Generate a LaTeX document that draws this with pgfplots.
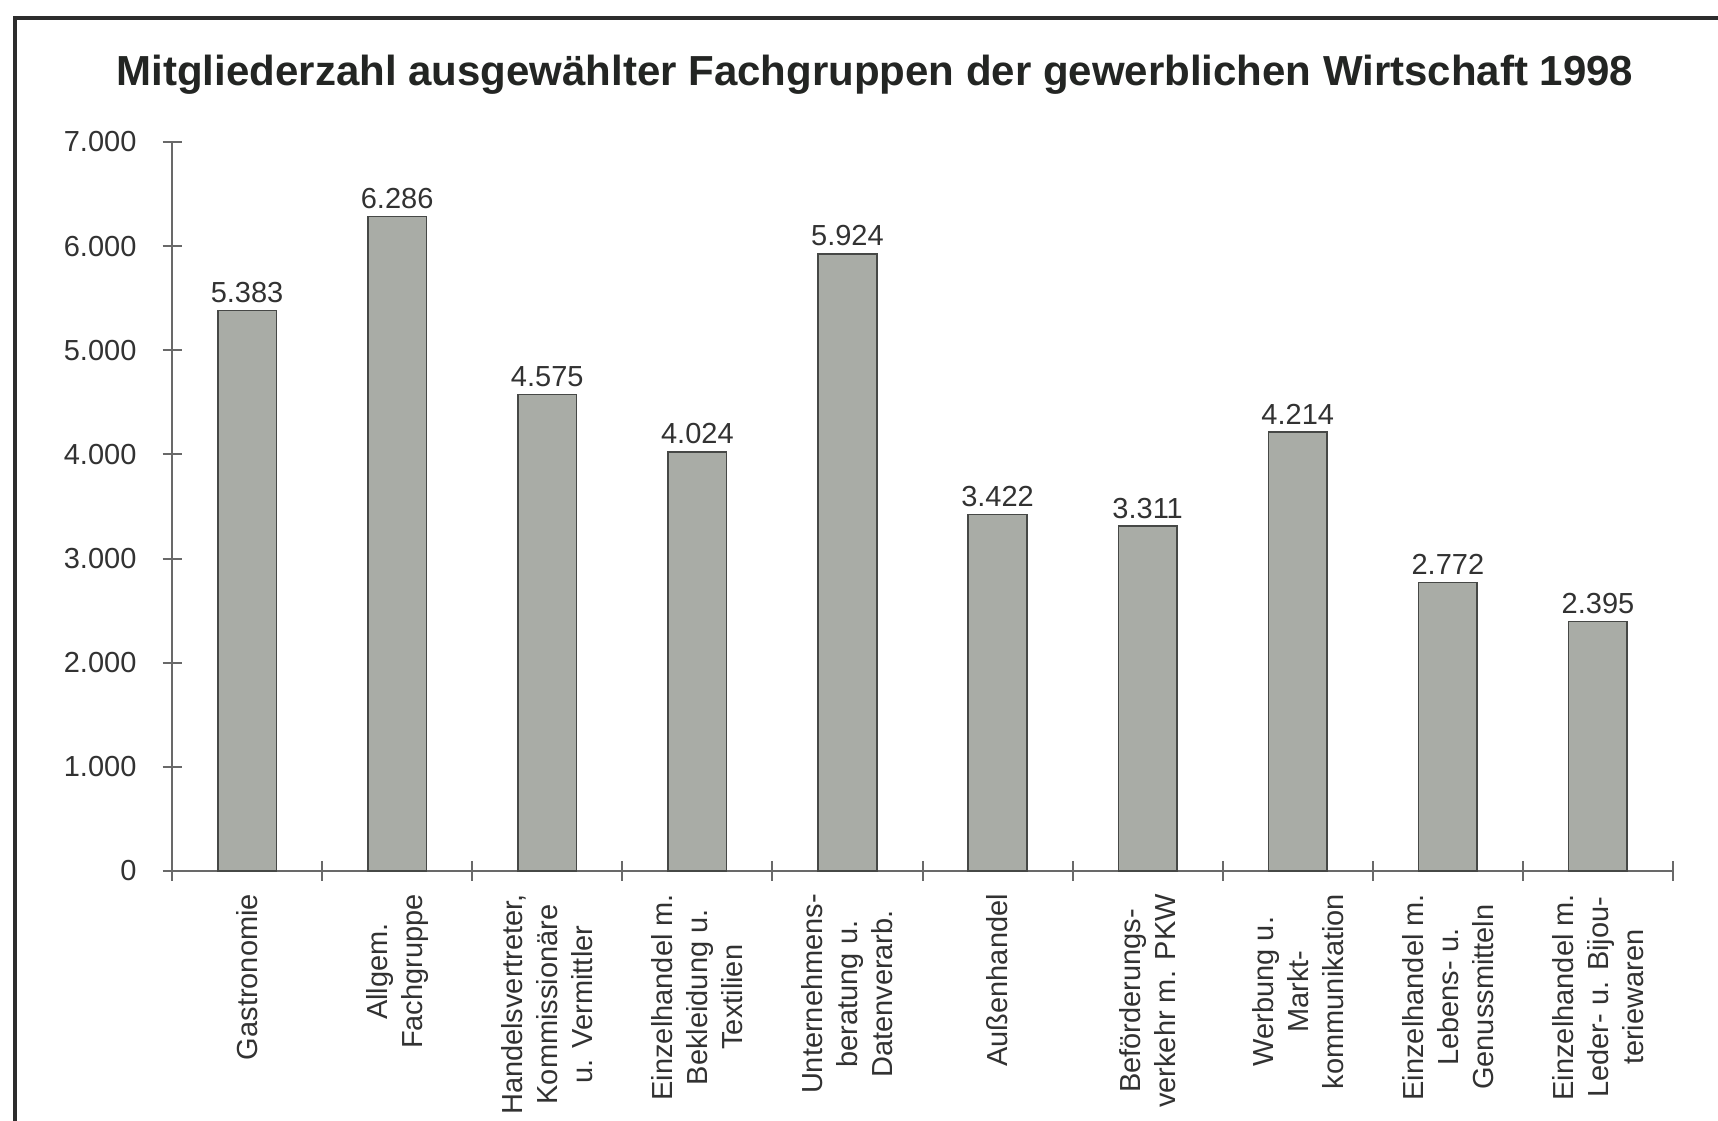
\documentclass[border=0pt]{standalone}
\usepackage{pgfplots}
\pgfplotsset{compat=1.18}
\usepackage{fontspec}
\setmainfont{Liberation Sans}
\definecolor{barfill}{RGB}{169,172,166}
\definecolor{baredge}{RGB}{70,72,70}
\definecolor{axisgray}{RGB}{105,105,105}
\definecolor{txt}{RGB}{50,50,50}
\definecolor{ttl}{RGB}{35,37,35}
\definecolor{frame}{RGB}{45,45,45}
\begin{document}
\begin{tikzpicture}
\useasboundingbox (0pt,0pt) rectangle (859pt,560pt);
\begin{scope}
\clip (0pt,0pt) rectangle (859pt,560pt);
\draw[line width=1.8pt, draw=frame] (7.5pt,-20pt) rectangle (900pt,551pt);
\end{scope}
\node[font=\fontsize{21}{25}\selectfont\bfseries, text=ttl] at (437.5pt,522.7pt) {Mitgliederzahl ausgewählter Fachgruppen der gewerblichen Wirtschaft 1998};
\begin{axis}[
  at={(86pt,124.5pt)}, anchor=south west,
  scale only axis, width=750.5pt, height=364.5pt,
  xmin=-0.5, xmax=9.5, ymin=0, ymax=7000,
  axis x line*=bottom, axis y line*=left,
  axis line style={draw=axisgray, line width=1pt},
  ytick={0,1000,...,7000},
  xtick={0,...,9},
  tick align=center,
  major tick length=9.5pt,
  major x tick style={draw=none},
  major y tick style={draw=axisgray, line width=1pt},
  /pgf/number format/.cd, 1000 sep={.}, assume math mode=true,
  /pgfplots/.cd,
  yticklabel style={font=\fontsize{14.5}{17}\selectfont, text=txt, xshift=-9.5pt},
  xticklabel style={font=\fontsize{14.5}{17.5}\selectfont, text=txt, rotate=90, anchor=east, align=center, xshift=1.5pt},
  xticklabels={
    {Gastronomie},
    {Allgem.\\Fachgruppe},
    {Handelsvertreter,\\Kommissionäre\\u. Vermittler},
    {Einzelhandel m.\\Bekleidung u.\\Textilien},
    {Unternehmens-\\beratung u.\\Datenverarb.},
    {Außenhandel},
    {Beförderungs-\\verkehr m. PKW},
    {Werbung u.\\Markt-\\kommunikation},
    {Einzelhandel m.\\Lebens- u.\\Genussmitteln},
    {Einzelhandel m.\\Leder- u. Bijou-\\teriewaren}
  },
  ybar, bar width=29.3pt,
  nodes near coords,
  nodes near coords style={font=\fontsize{14.5}{17}\selectfont, text=txt, inner sep=3.5pt},
  clip=false,
]
\addplot[fill=barfill, draw=baredge, line width=0.8pt] coordinates {
  (0,5383) (1,6286) (2,4575) (3,4024) (4,5924)
  (5,3422) (6,3311) (7,4214) (8,2772) (9,2395)
};
\pgfplotsinvokeforeach{-0.5,0.5,1.5,2.5,3.5,4.5,5.5,6.5,7.5,8.5,9.5}{
  \draw[draw=axisgray, line width=1pt] (axis cs:#1,0) ++(0pt,5pt) -- ++(0pt,-10pt);
}
\end{axis}
\end{tikzpicture}
\end{document}
